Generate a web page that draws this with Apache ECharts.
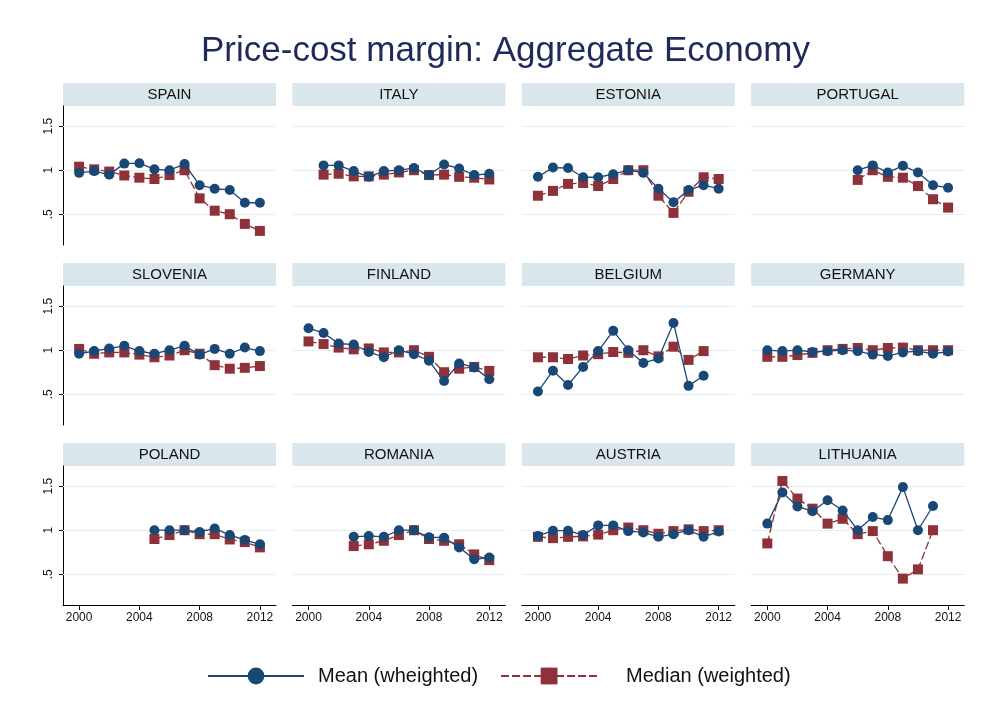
<!DOCTYPE html>
<html>
<head>
<meta charset="utf-8">
<script src="https://cdn.jsdelivr.net/npm/echarts@6/dist/echarts.min.js"></script>
<style>
html, body { margin: 0; padding: 0; background: #fff; }
#main { width: 984px; height: 725px; }
</style>
</head>
<body>
<div id="main"></div>
<script>
var years = [2000, 2001, 2002, 2003, 2004, 2005, 2006, 2007, 2008, 2009, 2010, 2011, 2012]
var yTicks = [0.5, 1, 1.5]
var yTickLabels = ['.5', '1', '1.5']
var xTicks = [2000, 2004, 2008, 2012]

var countries = ['SPAIN', 'ITALY', 'ESTONIA', 'PORTUGAL', 'SLOVENIA', 'FINLAND', 'BELGIUM', 'GERMANY', 'POLAND', 'ROMANIA', 'AUSTRIA', 'LITHUANIA']

var meanSpain = [0.97, 0.99, 0.95, 1.075, 1.08, 1.01, 1.0, 1.07, 0.83, 0.79, 0.775, 0.63, 0.63]
var medianSpain = [1.04, 1.01, 0.985, 0.94, 0.915, 0.9, 0.945, 1.0, 0.68, 0.54, 0.5, 0.39, 0.31]
var meanItaly = [null, 1.055, 1.055, 0.99, 0.925, 0.99, 1.0, 1.025, 0.945, 1.065, 1.02, 0.945, 0.96]
var medianItaly = [null, 0.95, 0.96, 0.93, 0.93, 0.95, 0.975, 1.0, 0.945, 0.95, 0.925, 0.915, 0.895]
var meanEstonia = [0.925, 1.03, 1.025, 0.92, 0.92, 0.955, 1.0, 0.97, 0.79, 0.635, 0.775, 0.83, 0.79]
var medianEstonia = [0.71, 0.765, 0.845, 0.855, 0.82, 0.9, 1.0, 1.0, 0.71, 0.515, 0.755, 0.92, 0.9]
var meanPortugal = [null, null, null, null, null, null, 1.0, 1.055, 0.975, 1.05, 0.975, 0.83, 0.8]
var medianPortugal = [null, null, null, null, null, null, 0.89, 1.0, 0.925, 0.915, 0.82, 0.67, 0.575]
var meanSlovenia = [0.96, 0.99, 1.02, 1.05, 0.99, 0.96, 1.0, 1.05, 0.95, 1.015, 0.96, 1.03, 0.99]
var medianSlovenia = [1.015, 0.96, 0.975, 0.975, 0.95, 0.92, 0.94, 1.0, 0.96, 0.83, 0.79, 0.8, 0.82]
var meanFinland = [1.25, 1.195, 1.075, 1.065, 0.98, 0.92, 1.0, 0.955, 0.88, 0.65, 0.85, 0.805, 0.67]
var medianFinland = [1.1, 1.07, 1.03, 1.01, 1.02, 0.975, 0.975, 1.0, 0.925, 0.75, 0.79, 0.81, 0.765]
var meanBelgium = [0.53, 0.767, 0.605, 0.81, 0.99, 1.22, 1.0, 0.855, 0.905, 1.31, 0.595, 0.71, null]
var medianBelgium = [0.92, 0.92, 0.9, 0.94, 0.955, 0.98, 0.97, 1.0, 0.93, 1.04, 0.89, 0.99, null]
var meanGermany = [1.0, 0.99, 1.0, 0.98, 0.99, 1.0, 0.99, 0.95, 0.935, 0.975, 0.99, 0.96, 0.985]
var medianGermany = [0.925, 0.925, 0.945, 0.97, 1.0, 1.015, 1.025, 1.0, 1.025, 1.03, 1.0, 1.0, 1.0]
var meanPoland = [null, null, null, null, null, 1.0, 1.0, 1.0, 0.98, 1.02, 0.945, 0.89, 0.84]
var medianPoland = [null, null, null, null, null, 0.9, 0.945, 1.0, 0.955, 0.955, 0.895, 0.865, 0.805]
var meanRomania = [null, null, null, 0.925, 0.935, 0.925, 1.0, 1.0, 0.92, 0.915, 0.805, 0.67, 0.69]
var medianRomania = [null, null, null, 0.82, 0.84, 0.88, 0.945, 1.0, 0.9, 0.88, 0.84, 0.725, 0.66]
var meanAustria = [0.935, 0.995, 0.995, 0.945, 1.055, 1.055, 0.99, 0.975, 0.925, 0.955, 1.0, 0.925, 0.985]
var medianAustria = [0.925, 0.91, 0.925, 0.93, 0.95, 1.0, 1.03, 1.0, 0.96, 0.99, 1.01, 0.99, 1.0]
var meanLithuania = [1.075, 1.43, 1.27, 1.215, 1.34, 1.225, 1.0, 1.15, 1.115, 1.49, 1.0, 1.275, null]
var medianLithuania = [0.85, 1.56, 1.36, 1.245, 1.075, 1.13, 0.955, 0.99, 0.705, 0.45, 0.555, 1.0, null]

var means = [meanSpain, meanItaly, meanEstonia, meanPortugal, meanSlovenia, meanFinland,
    meanBelgium, meanGermany, meanPoland, meanRomania, meanAustria, meanLithuania]
var medians = [medianSpain, medianItaly, medianEstonia, medianPortugal, medianSlovenia, medianFinland,
    medianBelgium, medianGermany, medianPoland, medianRomania, medianAustria, medianLithuania]

var meanName = 'Mean (wheighted)'
var medianName = 'Median (weighted)'
var navy = '#1a4876'
var maroon = '#8e3139'
var font = 'Liberation Sans, Arial, sans-serif'

// 布局
var colLeft = 63
var colStep = 229.4
var colWidth = 213
var rowTop = 106
var rowStep = 180
var rowHeight = 139
var stripHeight = 23

var pairs = (arr) => {
    let result = []
    for (var i = 0; i < years.length; i++) {
        if (arr[i] !== null) {
            result.push([years[i], arr[i]])
        }
    }
    return result
}

var grids = []
var xAxes = []
var yAxes = []
var series = []
var graphics = []

for (var k = 0; k < countries.length; k++) {
    let row = Math.floor(k / 4)
    let col = k % 4
    let left = colLeft + col * colStep
    let top = rowTop + row * rowStep
    grids.push({ left: left, top: top, width: colWidth, height: rowHeight })
    let bottomRow = row === 2
    let firstCol = col === 0
    xAxes.push({
        gridIndex: k,
        type: 'value',
        min: 1998.93,
        max: 2013.07,
        show: bottomRow,
        axisLine: { show: true, onZero: false, lineStyle: { color: '#000', width: 1 } },
        axisTick: { show: true, length: 5, customValues: xTicks, lineStyle: { color: '#000' } },
        axisLabel: {
            customValues: xTicks,
            color: '#111',
            fontSize: 12,
            fontFamily: font,
            margin: 7,
            formatter: (v) => String(v)
        },
        splitLine: { show: false }
    })
    yAxes.push({
        gridIndex: k,
        type: 'value',
        min: 0.15,
        max: 1.73,
        show: firstCol,
        axisLine: { show: true, lineStyle: { color: '#000', width: 1 } },
        axisTick: { show: true, length: 4, customValues: yTicks, lineStyle: { color: '#000' } },
        axisLabel: {
            customValues: yTicks,
            rotate: 90,
            color: '#111',
            fontSize: 12,
            fontFamily: font,
            margin: 8,
            formatter: (v) => yTickLabels[yTicks.indexOf(v)]
        },
        splitLine: { show: false }
    })
    series.push({
        name: medianName,
        type: 'line',
        xAxisIndex: k,
        yAxisIndex: k,
        data: pairs(medians[k]),
        symbol: 'rect',
        symbolSize: 10,
        z: 2,
        itemStyle: { color: maroon },
        lineStyle: { color: maroon, width: 1.3, type: [8, 3] },
        animation: false,
        markLine: {
            silent: true,
            z: 1,
            symbol: ['none', 'none'],
            label: { show: false },
            lineStyle: { color: '#e5eef0', type: 'solid', width: 1.2 },
            data: yTicks.map((v) => ({ yAxis: v }))
        }
    })
    series.push({
        name: meanName,
        type: 'line',
        xAxisIndex: k,
        yAxisIndex: k,
        data: pairs(means[k]),
        symbol: 'circle',
        symbolSize: 10,
        z: 3,
        itemStyle: { color: navy },
        lineStyle: { color: navy, width: 1.3 },
        animation: false
    })
    graphics.push({
        type: 'rect',
        shape: { x: left, y: top - stripHeight, width: colWidth, height: stripHeight },
        style: { fill: '#d9e6ec' }
    })
    graphics.push({
        type: 'text',
        x: left + colWidth / 2,
        y: top - stripHeight / 2,
        style: {
            text: countries[k],
            fill: '#111',
            font: '15px ' + font,
            textAlign: 'center',
            textVerticalAlign: 'middle'
        }
    })
}

var myChart = echarts.init(document.querySelector('#main'))
myChart.setOption({
    backgroundColor: '#fff',
    animation: false,
    title: {
        text: 'Price-cost margin: Aggregate Economy',
        left: 196,
        top: 29,
        textStyle: { color: '#1c2b5a', fontSize: 35, fontWeight: 'normal', fontFamily: font }
    },
    legend: {
        data: [
            { name: meanName, textStyle: { padding: [0, 0, 0, 9] } },
            { name: medianName, textStyle: { padding: [0, 0, 0, 24] } }
        ],
        left: 202,
        top: 661,
        itemWidth: 96,
        itemHeight: 21,
        itemGap: 22,
        textStyle: { color: '#111', fontSize: 20, fontFamily: font }
    },
    grid: grids,
    xAxis: xAxes,
    yAxis: yAxes,
    series: series,
    graphic: graphics
})
</script>
</body>
</html>
